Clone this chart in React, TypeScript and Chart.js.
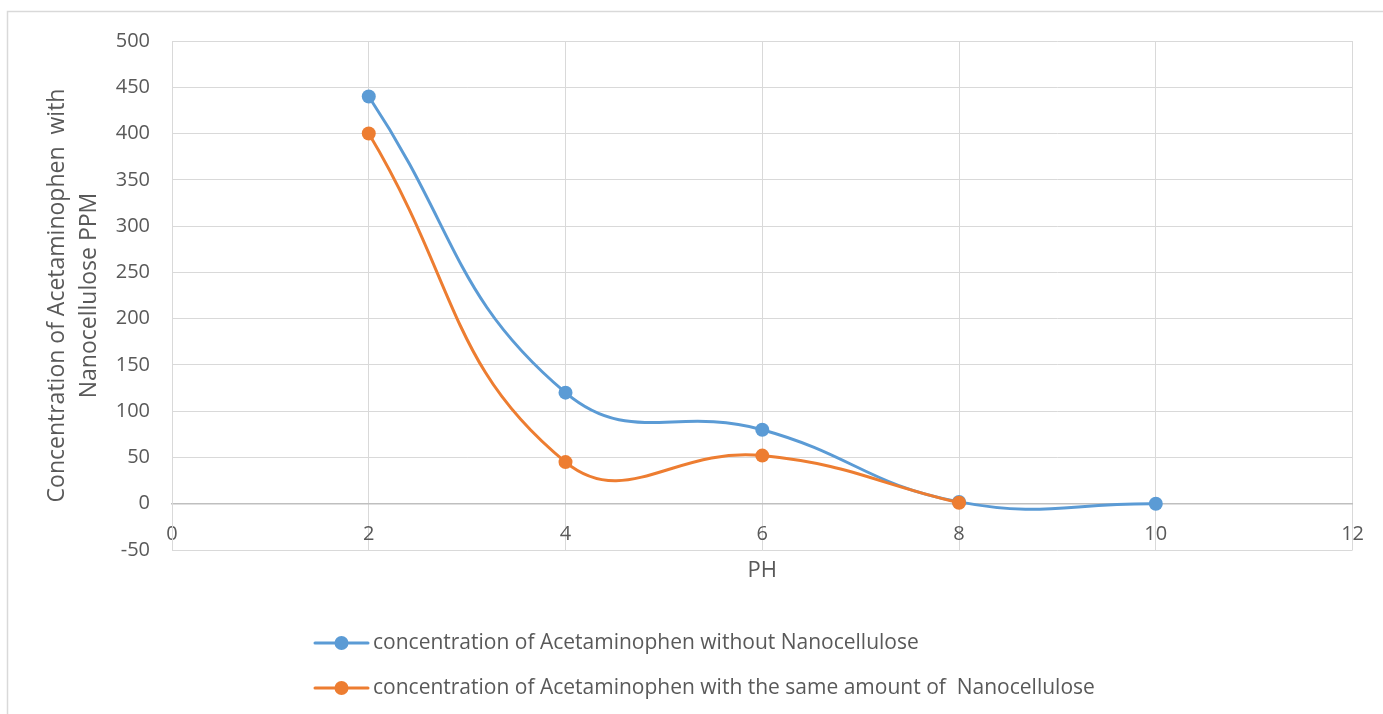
import React, { useEffect, useRef } from 'react';
import { Chart, registerables } from 'chart.js';

Chart.register(...registerables);

const phValues = [2, 4, 6, 8, 10];
const withoutNano = [440, 120, 80, 2, 0];
const withNano = [400, 45, 52, 1];
const seriesLabels = [
  'concentration of Acetaminophen without Nanocellulose',
  'concentration of Acetaminophen with the same amount of  Nanocellulose',
];
const seriesColors = ['#5b9bd5', '#ed7d31'];
const yTitleLines = ['Concentration of Acetaminophen  with', 'Nanocellulose PPM'];
const xTitle = 'PH';
const xRange = [0, 12, 2];
const yRange = [-50, 500, 50];

const FONT = "'Open Sans', 'Noto Sans', sans-serif";
const TEXT = '#595959';
const GRID = '#d9d9d9';

const framePlugin = {
  id: 'frame',
  beforeDraw(chart: any) {
    const ctx = chart.ctx;
    ctx.save();
    ctx.fillStyle = '#ffffff';
    ctx.fillRect(0, 0, chart.width, chart.height);
    ctx.strokeStyle = GRID;
    ctx.lineWidth = 1.5;
    ctx.strokeRect(7.5, 11.5, chart.width + 20, chart.height + 20);
    ctx.restore();
  },
};

const legendPlugin = {
  id: 'customLegend',
  afterDraw(chart: any) {
    const ctx = chart.ctx;
    ctx.save();
    const rowsY = [643, 688];
    chart.data.datasets.forEach((ds: any, i: number) => {
      const y = rowsY[i];
      const x0 = 315;
      ctx.strokeStyle = ds.borderColor;
      ctx.lineWidth = 3;
      ctx.lineCap = 'round';
      ctx.beginPath();
      ctx.moveTo(x0, y);
      ctx.lineTo(x0 + 53, y);
      ctx.stroke();
      ctx.fillStyle = ds.borderColor;
      ctx.beginPath();
      ctx.arc(x0 + 26.5, y, 7, 0, Math.PI * 2);
      ctx.fill();
      ctx.fillStyle = TEXT;
      ctx.font = `21px ${FONT}`;
      ctx.textBaseline = 'middle';
      ctx.textAlign = 'left';
      ctx.fillText(ds.label, x0 + 58, y);
    });
    ctx.restore();
  },
};

export default function App() {
  const ref = useRef<HTMLCanvasElement | null>(null);

  useEffect(() => {
    if (!ref.current) return;
    const chart = new Chart(ref.current, {
      type: 'line',
      data: {
        datasets: [
          {
            label: seriesLabels[0],
            data: phValues.map((x, i) => ({ x, y: withoutNano[i] })),
            borderColor: seriesColors[0],
            backgroundColor: seriesColors[0],
            pointBackgroundColor: seriesColors[0],
            pointBorderColor: seriesColors[0],
            borderWidth: 3,
            pointRadius: 7,
            pointBorderWidth: 0,
            tension: 0.45,
            order: 1,
          },
          {
            label: seriesLabels[1],
            data: withNano.map((y, i) => ({ x: phValues[i], y })),
            borderColor: seriesColors[1],
            backgroundColor: seriesColors[1],
            pointBackgroundColor: seriesColors[1],
            pointBorderColor: seriesColors[1],
            borderWidth: 3,
            pointRadius: 7,
            pointBorderWidth: 0,
            tension: 0.45,
            order: 0,
          },
        ],
      },
      options: {
        animation: false,
        responsive: true,
        maintainAspectRatio: false,
        layout: { padding: { left: 41, top: 41, right: 29, bottom: 164 } },
        plugins: {
          legend: { display: false },
          tooltip: { enabled: false },
        },
        scales: {
          x: {
            type: 'linear',
            position: { y: 0 },
            min: xRange[0],
            max: xRange[1],
            ticks: {
              stepSize: xRange[2],
              color: TEXT,
              font: { family: FONT, size: 20 },
              padding: 19,
              maxRotation: 0,
            },
            grid: { color: GRID, lineWidth: 1, drawTicks: false },
            border: { color: '#bfbfbf', width: 1.5 },
            title: {
              display: true,
              text: xTitle,
              color: TEXT,
              font: { family: FONT, size: 22 },
              padding: { top: -8, bottom: 0 },
            },
          },
          y: {
            type: 'linear',
            min: yRange[0],
            max: yRange[1],
            ticks: {
              stepSize: yRange[2],
              color: TEXT,
              font: { family: FONT, size: 20 },
              padding: 22,
            },
            grid: { color: GRID, lineWidth: 1, drawTicks: false },
            border: { color: GRID, width: 1 },
            title: {
              display: true,
              text: yTitleLines,
              color: TEXT,
              font: { family: FONT, size: 23, lineHeight: 32 / 23 },
              padding: 0,
            },
            afterFit(scale: any) {
              scale.width = 131;
            },
          },
        },
      },
      plugins: [framePlugin, legendPlugin],
    });
    return () => chart.destroy();
  }, []);

  return (
    <div style={{ position: 'absolute', left: 0, top: 0, width: 1383, height: 714 }}>
      <canvas ref={ref} />
    </div>
  );
}
